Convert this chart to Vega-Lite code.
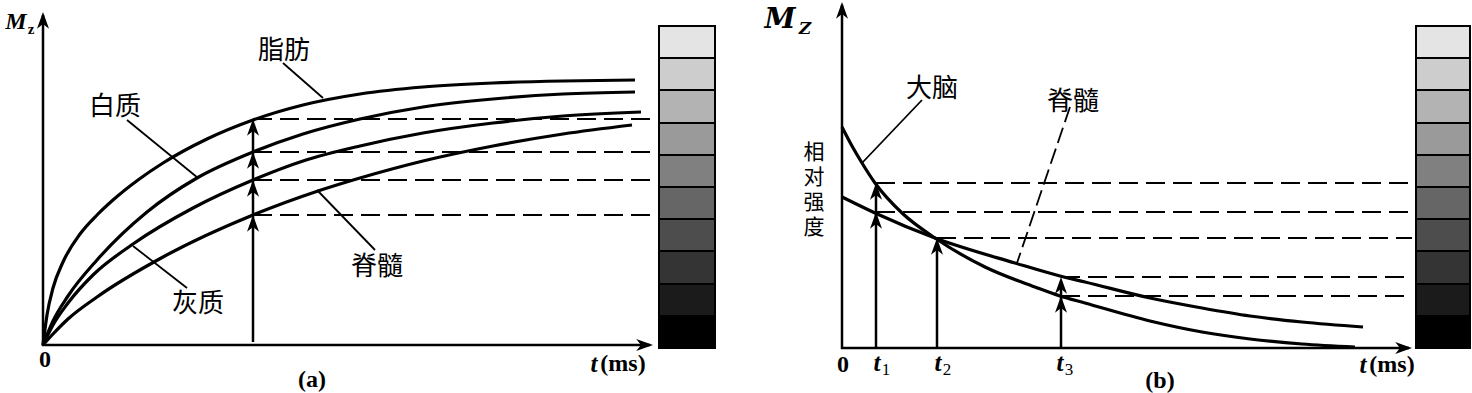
{
  "$schema": "https://vega.github.io/schema/vega-lite/v6.json",
  "padding": 0,
  "spacing": 0,
  "background": "white",
  "config": {"view": {"stroke": null}},
  "datasets": {
    "a_bar": [
      {"level": 0, "top": 319, "bottom": 287}, {"level": 1, "top": 287, "bottom": 255},
      {"level": 2, "top": 255, "bottom": 222}, {"level": 3, "top": 222, "bottom": 190},
      {"level": 4, "top": 190, "bottom": 158}, {"level": 5, "top": 158, "bottom": 126},
      {"level": 6, "top": 126, "bottom": 94}, {"level": 7, "top": 94, "bottom": 61},
      {"level": 8, "top": 61, "bottom": 29}, {"level": 9, "top": 29, "bottom": -3}
    ],
    "b_bar": [
      {"level": 0, "top": 322, "bottom": 290}, {"level": 1, "top": 290, "bottom": 258},
      {"level": 2, "top": 258, "bottom": 225}, {"level": 3, "top": 225, "bottom": 193},
      {"level": 4, "top": 193, "bottom": 161}, {"level": 5, "top": 161, "bottom": 129},
      {"level": 6, "top": 129, "bottom": 97}, {"level": 7, "top": 97, "bottom": 64},
      {"level": 8, "top": 64, "bottom": 32}, {"level": 9, "top": 32, "bottom": 0}
    ],
    "a_curves": [
      {"s": "脂肪", "t": 0, "M": 0}, {"s": "脂肪", "t": 4, "M": 30}, {"s": "脂肪", "t": 10, "M": 57},
      {"s": "脂肪", "t": 20, "M": 83}, {"s": "脂肪", "t": 37, "M": 111}, {"s": "脂肪", "t": 55, "M": 131},
      {"s": "脂肪", "t": 70, "M": 145}, {"s": "脂肪", "t": 95, "M": 165}, {"s": "脂肪", "t": 120, "M": 182},
      {"s": "脂肪", "t": 164, "M": 206}, {"s": "脂肪", "t": 210, "M": 225}, {"s": "脂肪", "t": 260, "M": 240},
      {"s": "脂肪", "t": 317, "M": 251}, {"s": "脂肪", "t": 380, "M": 258}, {"s": "脂肪", "t": 450, "M": 262},
      {"s": "脂肪", "t": 520, "M": 264}, {"s": "脂肪", "t": 592, "M": 265},
      {"s": "白质", "t": 0, "M": 0}, {"s": "白质", "t": 10, "M": 24}, {"s": "白质", "t": 25, "M": 49},
      {"s": "白质", "t": 54, "M": 85}, {"s": "白质", "t": 104, "M": 133}, {"s": "白质", "t": 154, "M": 167},
      {"s": "白质", "t": 210, "M": 193}, {"s": "白质", "t": 260, "M": 211}, {"s": "白质", "t": 317, "M": 226},
      {"s": "白质", "t": 380, "M": 238}, {"s": "白质", "t": 450, "M": 246}, {"s": "白质", "t": 520, "M": 251},
      {"s": "白质", "t": 592, "M": 253},
      {"s": "灰质", "t": 0, "M": 0}, {"s": "灰质", "t": 10, "M": 20}, {"s": "灰质", "t": 25, "M": 42},
      {"s": "灰质", "t": 50, "M": 70}, {"s": "灰质", "t": 90, "M": 101}, {"s": "灰质", "t": 150, "M": 137},
      {"s": "灰质", "t": 210, "M": 165}, {"s": "灰质", "t": 260, "M": 184}, {"s": "灰质", "t": 317, "M": 199},
      {"s": "灰质", "t": 380, "M": 212}, {"s": "灰质", "t": 450, "M": 222}, {"s": "灰质", "t": 520, "M": 229},
      {"s": "灰质", "t": 598, "M": 233},
      {"s": "脊髓", "t": 0, "M": 0}, {"s": "脊髓", "t": 10, "M": 11}, {"s": "脊髓", "t": 25, "M": 26},
      {"s": "脊髓", "t": 54, "M": 48}, {"s": "脊髓", "t": 120, "M": 88}, {"s": "脊髓", "t": 210, "M": 130},
      {"s": "脊髓", "t": 275, "M": 154}, {"s": "脊髓", "t": 317, "M": 167}, {"s": "脊髓", "t": 380, "M": 184},
      {"s": "脊髓", "t": 450, "M": 199}, {"s": "脊髓", "t": 520, "M": 211}, {"s": "脊髓", "t": 589, "M": 220}
    ],
    "a_dash": [
      {"t0": 210, "t1": 612, "M": 226}, {"t0": 210, "t1": 612, "M": 193},
      {"t0": 210, "t1": 612, "M": 165}, {"t0": 210, "t1": 612, "M": 130}
    ],
    "a_rules": [
      {"t0": 0, "t1": 0, "m0": -1, "m1": 330},
      {"t0": -1, "t1": 607, "m0": 0, "m1": 0},
      {"t0": 210, "t1": 210, "m0": 3, "m1": 220}
    ],
    "a_ptr": [
      {"t0": 240, "m0": 282, "t1": 280, "m1": 247},
      {"t0": 84, "m0": 225, "t1": 155, "m1": 167},
      {"t0": 144, "m0": 57, "t1": 90, "m1": 99},
      {"t0": 274, "m0": 155, "t1": 332, "m1": 95}
    ],
    "a_up": [
      {"t": 0, "M": 333}, {"t": 210, "M": 226}, {"t": 210, "M": 193}, {"t": 210, "M": 165}, {"t": 210, "M": 130}
    ],
    "a_right": [{"t": 610, "M": 0}],
    "a_text": [
      {"kind": "cjk", "t": 241, "M": 294, "label": "脂肪"},
      {"kind": "cjk", "t": 72, "M": 238, "label": "白质"},
      {"kind": "cjk", "t": 155, "M": 41, "label": "灰质"},
      {"kind": "cjk", "t": 334, "M": 78, "label": "脊髓"},
      {"kind": "bold", "t": 2, "M": -15, "label": "0"},
      {"kind": "bold", "t": 269, "M": -35, "label": "(a)"},
      {"kind": "bold", "t": 580, "M": -19, "label": "(ms)"},
      {"kind": "ital", "t": 551, "M": -19, "label": "t"},
      {"kind": "mlab", "t": -27, "M": 323, "label": "M"},
      {"kind": "msub", "t": -12, "M": 316, "label": "z"}
    ],
    "b_curves": [
      {"s": "大脑", "t": 0, "M": 221}, {"s": "大脑", "t": 10, "M": 202}, {"s": "大脑", "t": 20, "M": 185},
      {"s": "大脑", "t": 33, "M": 165}, {"s": "大脑", "t": 60, "M": 135}, {"s": "大脑", "t": 93, "M": 110},
      {"s": "大脑", "t": 143, "M": 81}, {"s": "大脑", "t": 193, "M": 61}, {"s": "大脑", "t": 218, "M": 52},
      {"s": "大脑", "t": 243, "M": 45}, {"s": "大脑", "t": 308, "M": 27}, {"s": "大脑", "t": 360, "M": 16},
      {"s": "大脑", "t": 408, "M": 9}, {"s": "大脑", "t": 460, "M": 4}, {"s": "大脑", "t": 513, "M": 1},
      {"s": "脊髓", "t": 0, "M": 151}, {"s": "脊髓", "t": 33, "M": 135}, {"s": "脊髓", "t": 93, "M": 110},
      {"s": "脊髓", "t": 173, "M": 85}, {"s": "脊髓", "t": 218, "M": 72}, {"s": "脊髓", "t": 243, "M": 66},
      {"s": "脊髓", "t": 308, "M": 50}, {"s": "脊髓", "t": 360, "M": 40}, {"s": "脊髓", "t": 408, "M": 32},
      {"s": "脊髓", "t": 460, "M": 26}, {"s": "脊髓", "t": 521, "M": 21}
    ],
    "b_dash": [
      {"t0": 34, "t1": 570, "M": 165}, {"t0": 34, "t1": 570, "M": 136},
      {"t0": 95, "t1": 570, "M": 110}, {"t0": 219, "t1": 570, "M": 71},
      {"t0": 219, "t1": 570, "M": 52}
    ],
    "b_rules": [
      {"t0": 0, "t1": 0, "m0": -1, "m1": 343},
      {"t0": -1, "t1": 567, "m0": 0, "m1": 0},
      {"t0": 34, "t1": 34, "m0": 0, "m1": 160},
      {"t0": 95, "t1": 95, "m0": 0, "m1": 105},
      {"t0": 219, "t1": 219, "m0": 0, "m1": 66}
    ],
    "b_ptr": [{"t0": 80, "m0": 248, "t1": 20, "m1": 185}],
    "b_ptr_dash": [{"t0": 228, "m0": 241, "t1": 175, "m1": 85}],
    "b_up": [
      {"t": 0, "M": 346}, {"t": 34, "M": 165}, {"t": 34, "M": 136}, {"t": 95, "M": 110},
      {"t": 219, "M": 71}, {"t": 219, "M": 52}
    ],
    "b_right": [{"t": 570, "M": 0}],
    "b_text": [
      {"kind": "cjk", "t": 90, "M": 259, "label": "大脑"},
      {"kind": "cjk", "t": 231, "M": 246, "label": "脊髓"},
      {"kind": "cjkv", "t": -28, "M": 195, "label": "相\n对\n强\n度"},
      {"kind": "bold", "t": 1, "M": -17, "label": "0"},
      {"kind": "bold", "t": 318, "M": -33, "label": "(b)"},
      {"kind": "bold", "t": 550, "M": -17, "label": "(ms)"},
      {"kind": "ital", "t": 521, "M": -17, "label": "t"},
      {"kind": "ital", "t": 35, "M": -15, "label": "t"},
      {"kind": "ital", "t": 96, "M": -15, "label": "t"},
      {"kind": "ital", "t": 218, "M": -15, "label": "t"},
      {"kind": "sub", "t": 44, "M": -22, "label": "1"},
      {"kind": "sub", "t": 105, "M": -22, "label": "2"},
      {"kind": "sub", "t": 227, "M": -22, "label": "3"},
      {"kind": "mlab", "t": -62, "M": 328, "label": "M"},
      {"kind": "msub", "t": -37, "M": 319, "label": "Z"}
    ]
  },
  "hconcat": [
    {
      "width": 736,
      "height": 393,
      "layer": [
        {
          "data": {"name": "a_bar"},
          "mark": {"type": "rect", "stroke": "black", "strokeWidth": 2},
          "encoding": {
            "x": {"datum": 616, "type": "quantitative", "scale": {"domain": [-43, 693], "nice": false, "zero": false}, "axis": null},
            "x2": {"datum": 672},
            "y": {"field": "top", "type": "quantitative", "scale": {"domain": [-48, 345], "nice": false, "zero": false}, "axis": null},
            "y2": {"field": "bottom"},
            "color": {"field": "level", "type": "ordinal", "scale": {"range": ["#e4e4e4", "#cdcdcd", "#b3b3b3", "#9a9a9a", "#808080", "#666666", "#4d4d4d", "#343434", "#1b1b1b", "#000000"]}, "legend": null}
          }
        },
        {
          "data": {"name": "a_dash"},
          "mark": {"type": "rule", "color": "black", "strokeWidth": 2, "strokeDash": [19, 8]},
          "encoding": {
            "x": {"field": "t0", "type": "quantitative", "scale": {"domain": [-43, 693], "nice": false, "zero": false}, "axis": null},
            "x2": {"field": "t1"},
            "y": {"field": "M", "type": "quantitative", "scale": {"domain": [-48, 345], "nice": false, "zero": false}, "axis": null}
          }
        },
        {
          "data": {"name": "a_curves"},
          "mark": {"type": "line", "color": "black", "strokeWidth": 3.2, "interpolate": "monotone"},
          "encoding": {
            "x": {"field": "t", "type": "quantitative", "scale": {"domain": [-43, 693], "nice": false, "zero": false}, "axis": null},
            "y": {"field": "M", "type": "quantitative", "scale": {"domain": [-48, 345], "nice": false, "zero": false}, "axis": null},
            "detail": {"field": "s"}
          }
        },
        {
          "data": {"name": "a_rules"},
          "mark": {"type": "rule", "color": "black", "strokeWidth": 2.5},
          "encoding": {
            "x": {"field": "t0", "type": "quantitative", "scale": {"domain": [-43, 693], "nice": false, "zero": false}, "axis": null},
            "x2": {"field": "t1"},
            "y": {"field": "m0", "type": "quantitative", "scale": {"domain": [-48, 345], "nice": false, "zero": false}, "axis": null},
            "y2": {"field": "m1"}
          }
        },
        {
          "data": {"name": "a_ptr"},
          "mark": {"type": "rule", "color": "black", "strokeWidth": 1.8},
          "encoding": {
            "x": {"field": "t0", "type": "quantitative", "scale": {"domain": [-43, 693], "nice": false, "zero": false}, "axis": null},
            "x2": {"field": "t1"},
            "y": {"field": "m0", "type": "quantitative", "scale": {"domain": [-48, 345], "nice": false, "zero": false}, "axis": null},
            "y2": {"field": "m1"}
          }
        },
        {
          "data": {"name": "a_up"},
          "mark": {"type": "point", "shape": "M0,0L0.75,2.1L0,1.5L-0.75,2.1Z", "size": 256, "filled": true, "color": "black", "opacity": 1, "strokeWidth": 0},
          "encoding": {
            "x": {"field": "t", "type": "quantitative", "scale": {"domain": [-43, 693], "nice": false, "zero": false}, "axis": null},
            "y": {"field": "M", "type": "quantitative", "scale": {"domain": [-48, 345], "nice": false, "zero": false}, "axis": null}
          }
        },
        {
          "data": {"name": "a_right"},
          "mark": {"type": "point", "shape": "M0,0L0.75,2.1L0,1.5L-0.75,2.1Z", "size": 256, "angle": 90, "filled": true, "color": "black", "opacity": 1, "strokeWidth": 0},
          "encoding": {
            "x": {"field": "t", "type": "quantitative", "scale": {"domain": [-43, 693], "nice": false, "zero": false}, "axis": null},
            "y": {"field": "M", "type": "quantitative", "scale": {"domain": [-48, 345], "nice": false, "zero": false}, "axis": null}
          }
        },
        {
          "data": {"name": "a_text"},
          "transform": [{"filter": "datum.kind === 'cjk'"}],
          "mark": {"type": "text", "font": "Noto Sans CJK SC", "fontSize": 26, "align": "center", "baseline": "middle", "color": "black"},
          "encoding": {
            "x": {"field": "t", "type": "quantitative", "scale": {"domain": [-43, 693], "nice": false, "zero": false}, "axis": null},
            "y": {"field": "M", "type": "quantitative", "scale": {"domain": [-48, 345], "nice": false, "zero": false}, "axis": null},
            "text": {"field": "label"}
          }
        },
        {
          "data": {"name": "a_text"},
          "transform": [{"filter": "datum.kind === 'bold'"}],
          "mark": {"type": "text", "font": "Liberation Serif", "fontWeight": "bold", "fontSize": 24, "align": "center", "baseline": "middle", "color": "black"},
          "encoding": {
            "x": {"field": "t", "type": "quantitative", "scale": {"domain": [-43, 693], "nice": false, "zero": false}, "axis": null},
            "y": {"field": "M", "type": "quantitative", "scale": {"domain": [-48, 345], "nice": false, "zero": false}, "axis": null},
            "text": {"field": "label"}
          }
        },
        {
          "data": {"name": "a_text"},
          "transform": [{"filter": "datum.kind === 'ital'"}],
          "mark": {"type": "text", "font": "Liberation Serif", "fontWeight": "bold", "fontStyle": "italic", "fontSize": 25, "align": "center", "baseline": "middle", "color": "black"},
          "encoding": {
            "x": {"field": "t", "type": "quantitative", "scale": {"domain": [-43, 693], "nice": false, "zero": false}, "axis": null},
            "y": {"field": "M", "type": "quantitative", "scale": {"domain": [-48, 345], "nice": false, "zero": false}, "axis": null},
            "text": {"field": "label"}
          }
        },
        {
          "data": {"name": "a_text"},
          "transform": [{"filter": "datum.kind === 'mlab'"}],
          "mark": {"type": "text", "font": "Liberation Serif", "fontWeight": "bold", "fontStyle": "italic", "fontSize": 24, "align": "center", "baseline": "middle", "color": "black"},
          "encoding": {
            "x": {"field": "t", "type": "quantitative", "scale": {"domain": [-43, 693], "nice": false, "zero": false}, "axis": null},
            "y": {"field": "M", "type": "quantitative", "scale": {"domain": [-48, 345], "nice": false, "zero": false}, "axis": null},
            "text": {"field": "label"}
          }
        },
        {
          "data": {"name": "a_text"},
          "transform": [{"filter": "datum.kind === 'msub'"}],
          "mark": {"type": "text", "font": "Liberation Serif", "fontWeight": "bold", "fontSize": 15, "align": "center", "baseline": "middle", "color": "black"},
          "encoding": {
            "x": {"field": "t", "type": "quantitative", "scale": {"domain": [-43, 693], "nice": false, "zero": false}, "axis": null},
            "y": {"field": "M", "type": "quantitative", "scale": {"domain": [-48, 345], "nice": false, "zero": false}, "axis": null},
            "text": {"field": "label"}
          }
        }
      ]
    },
    {
      "width": 736,
      "height": 393,
      "layer": [
        {
          "data": {"name": "b_bar"},
          "mark": {"type": "rect", "stroke": "black", "strokeWidth": 2},
          "encoding": {
            "x": {"datum": 574, "type": "quantitative", "scale": {"domain": [-106, 630], "nice": false, "zero": false}, "axis": null},
            "x2": {"datum": 628},
            "y": {"field": "top", "type": "quantitative", "scale": {"domain": [-45, 348], "nice": false, "zero": false}, "axis": null},
            "y2": {"field": "bottom"},
            "color": {"field": "level", "type": "ordinal", "scale": {"range": ["#e4e4e4", "#cdcdcd", "#b3b3b3", "#9a9a9a", "#808080", "#666666", "#4d4d4d", "#343434", "#1b1b1b", "#000000"]}, "legend": null}
          }
        },
        {
          "data": {"name": "b_dash"},
          "mark": {"type": "rule", "color": "black", "strokeWidth": 2, "strokeDash": [19, 8]},
          "encoding": {
            "x": {"field": "t0", "type": "quantitative", "scale": {"domain": [-106, 630], "nice": false, "zero": false}, "axis": null},
            "x2": {"field": "t1"},
            "y": {"field": "M", "type": "quantitative", "scale": {"domain": [-45, 348], "nice": false, "zero": false}, "axis": null}
          }
        },
        {
          "data": {"name": "b_curves"},
          "mark": {"type": "line", "color": "black", "strokeWidth": 3.2, "interpolate": "monotone"},
          "encoding": {
            "x": {"field": "t", "type": "quantitative", "scale": {"domain": [-106, 630], "nice": false, "zero": false}, "axis": null},
            "y": {"field": "M", "type": "quantitative", "scale": {"domain": [-45, 348], "nice": false, "zero": false}, "axis": null},
            "detail": {"field": "s"}
          }
        },
        {
          "data": {"name": "b_rules"},
          "mark": {"type": "rule", "color": "black", "strokeWidth": 2.5},
          "encoding": {
            "x": {"field": "t0", "type": "quantitative", "scale": {"domain": [-106, 630], "nice": false, "zero": false}, "axis": null},
            "x2": {"field": "t1"},
            "y": {"field": "m0", "type": "quantitative", "scale": {"domain": [-45, 348], "nice": false, "zero": false}, "axis": null},
            "y2": {"field": "m1"}
          }
        },
        {
          "data": {"name": "b_ptr"},
          "mark": {"type": "rule", "color": "black", "strokeWidth": 1.8},
          "encoding": {
            "x": {"field": "t0", "type": "quantitative", "scale": {"domain": [-106, 630], "nice": false, "zero": false}, "axis": null},
            "x2": {"field": "t1"},
            "y": {"field": "m0", "type": "quantitative", "scale": {"domain": [-45, 348], "nice": false, "zero": false}, "axis": null},
            "y2": {"field": "m1"}
          }
        },
        {
          "data": {"name": "b_ptr_dash"},
          "mark": {"type": "rule", "color": "black", "strokeWidth": 1.8, "strokeDash": [16, 6]},
          "encoding": {
            "x": {"field": "t0", "type": "quantitative", "scale": {"domain": [-106, 630], "nice": false, "zero": false}, "axis": null},
            "x2": {"field": "t1"},
            "y": {"field": "m0", "type": "quantitative", "scale": {"domain": [-45, 348], "nice": false, "zero": false}, "axis": null},
            "y2": {"field": "m1"}
          }
        },
        {
          "data": {"name": "b_up"},
          "mark": {"type": "point", "shape": "M0,0L0.75,2.1L0,1.5L-0.75,2.1Z", "size": 256, "filled": true, "color": "black", "opacity": 1, "strokeWidth": 0},
          "encoding": {
            "x": {"field": "t", "type": "quantitative", "scale": {"domain": [-106, 630], "nice": false, "zero": false}, "axis": null},
            "y": {"field": "M", "type": "quantitative", "scale": {"domain": [-45, 348], "nice": false, "zero": false}, "axis": null}
          }
        },
        {
          "data": {"name": "b_right"},
          "mark": {"type": "point", "shape": "M0,0L0.75,2.1L0,1.5L-0.75,2.1Z", "size": 256, "angle": 90, "filled": true, "color": "black", "opacity": 1, "strokeWidth": 0},
          "encoding": {
            "x": {"field": "t", "type": "quantitative", "scale": {"domain": [-106, 630], "nice": false, "zero": false}, "axis": null},
            "y": {"field": "M", "type": "quantitative", "scale": {"domain": [-45, 348], "nice": false, "zero": false}, "axis": null}
          }
        },
        {
          "data": {"name": "b_text"},
          "transform": [{"filter": "datum.kind === 'cjk'"}],
          "mark": {"type": "text", "font": "Noto Sans CJK SC", "fontSize": 26, "align": "center", "baseline": "middle", "color": "black"},
          "encoding": {
            "x": {"field": "t", "type": "quantitative", "scale": {"domain": [-106, 630], "nice": false, "zero": false}, "axis": null},
            "y": {"field": "M", "type": "quantitative", "scale": {"domain": [-45, 348], "nice": false, "zero": false}, "axis": null},
            "text": {"field": "label"}
          }
        },
        {
          "data": {"name": "b_text"},
          "transform": [{"filter": "datum.kind === 'cjkv'"}],
          "mark": {"type": "text", "font": "Noto Sans CJK SC", "fontSize": 21, "lineBreak": "\n", "lineHeight": 25, "align": "center", "baseline": "middle", "color": "black"},
          "encoding": {
            "x": {"field": "t", "type": "quantitative", "scale": {"domain": [-106, 630], "nice": false, "zero": false}, "axis": null},
            "y": {"field": "M", "type": "quantitative", "scale": {"domain": [-45, 348], "nice": false, "zero": false}, "axis": null},
            "text": {"field": "label"}
          }
        },
        {
          "data": {"name": "b_text"},
          "transform": [{"filter": "datum.kind === 'bold'"}],
          "mark": {"type": "text", "font": "Liberation Serif", "fontWeight": "bold", "fontSize": 24, "align": "center", "baseline": "middle", "color": "black"},
          "encoding": {
            "x": {"field": "t", "type": "quantitative", "scale": {"domain": [-106, 630], "nice": false, "zero": false}, "axis": null},
            "y": {"field": "M", "type": "quantitative", "scale": {"domain": [-45, 348], "nice": false, "zero": false}, "axis": null},
            "text": {"field": "label"}
          }
        },
        {
          "data": {"name": "b_text"},
          "transform": [{"filter": "datum.kind === 'ital'"}],
          "mark": {"type": "text", "font": "Liberation Serif", "fontWeight": "bold", "fontStyle": "italic", "fontSize": 25, "align": "center", "baseline": "middle", "color": "black"},
          "encoding": {
            "x": {"field": "t", "type": "quantitative", "scale": {"domain": [-106, 630], "nice": false, "zero": false}, "axis": null},
            "y": {"field": "M", "type": "quantitative", "scale": {"domain": [-45, 348], "nice": false, "zero": false}, "axis": null},
            "text": {"field": "label"}
          }
        },
        {
          "data": {"name": "b_text"},
          "transform": [{"filter": "datum.kind === 'sub'"}],
          "mark": {"type": "text", "font": "Liberation Serif", "fontSize": 17, "align": "center", "baseline": "middle", "color": "black"},
          "encoding": {
            "x": {"field": "t", "type": "quantitative", "scale": {"domain": [-106, 630], "nice": false, "zero": false}, "axis": null},
            "y": {"field": "M", "type": "quantitative", "scale": {"domain": [-45, 348], "nice": false, "zero": false}, "axis": null},
            "text": {"field": "label"}
          }
        },
        {
          "data": {"name": "b_text"},
          "transform": [{"filter": "datum.kind === 'mlab'"}],
          "mark": {"type": "text", "font": "DejaVu Serif", "fontWeight": "bold", "fontStyle": "italic", "fontSize": 28, "align": "center", "baseline": "middle", "color": "black"},
          "encoding": {
            "x": {"field": "t", "type": "quantitative", "scale": {"domain": [-106, 630], "nice": false, "zero": false}, "axis": null},
            "y": {"field": "M", "type": "quantitative", "scale": {"domain": [-45, 348], "nice": false, "zero": false}, "axis": null},
            "text": {"field": "label"}
          }
        },
        {
          "data": {"name": "b_text"},
          "transform": [{"filter": "datum.kind === 'msub'"}],
          "mark": {"type": "text", "font": "DejaVu Serif", "fontWeight": "bold", "fontStyle": "italic", "fontSize": 17, "align": "center", "baseline": "middle", "color": "black"},
          "encoding": {
            "x": {"field": "t", "type": "quantitative", "scale": {"domain": [-106, 630], "nice": false, "zero": false}, "axis": null},
            "y": {"field": "M", "type": "quantitative", "scale": {"domain": [-45, 348], "nice": false, "zero": false}, "axis": null},
            "text": {"field": "label"}
          }
        }
      ]
    }
  ]
}
